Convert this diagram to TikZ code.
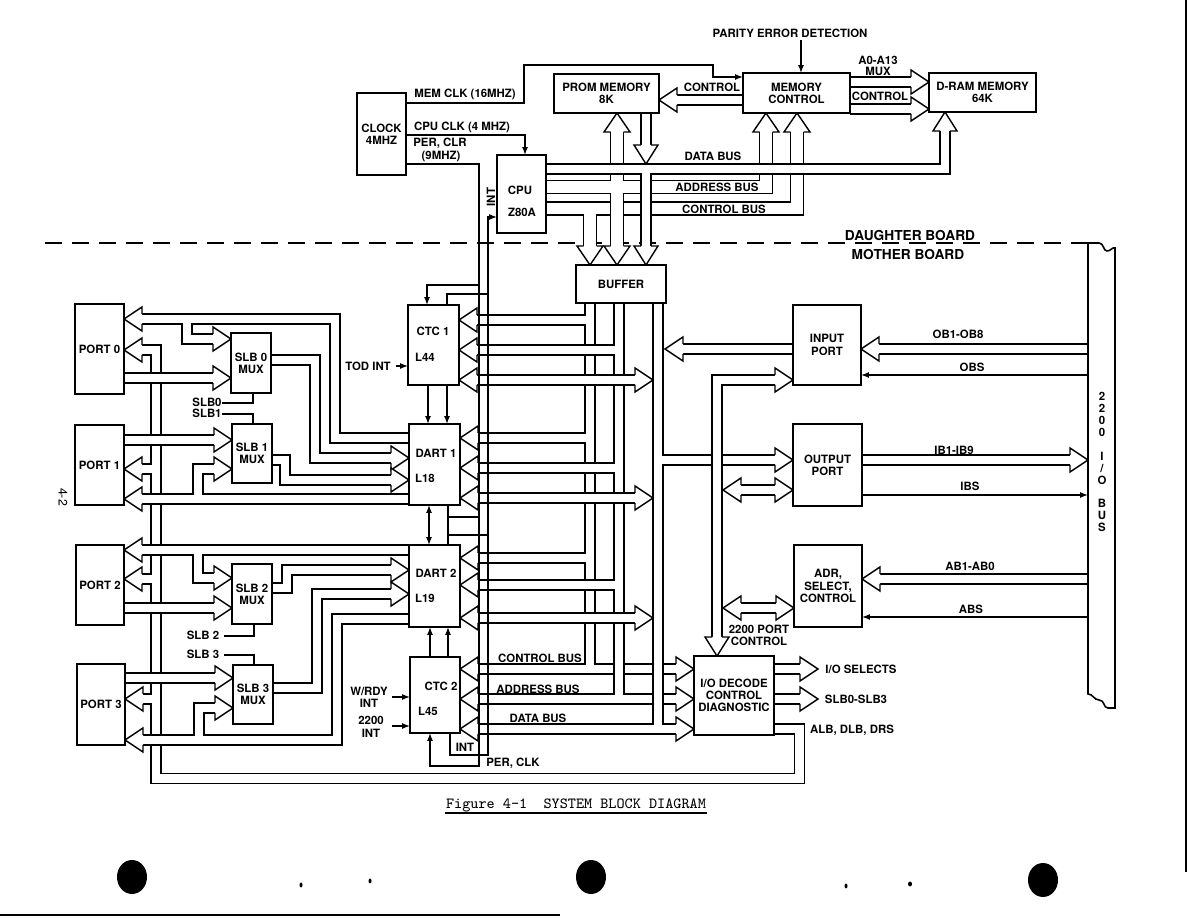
\documentclass[tikz,border=0pt]{standalone}
\usepackage{fontspec}
\setmainfont{TeX Gyre Heros}
\usetikzlibrary{arrows.meta}
\newcommand\dfont{\fontsize{6.5}{7.0}\selectfont\bfseries}
\newcommand\bigfont{\fontsize{7.8}{9}\selectfont\bfseries}
\def\hw{5}
\def\aw{12}
\newcommand\ahR[2]{\filldraw[ah] ({#1-18},{#2-\hw}) -- ({#1-18},{#2-\aw}) -- (#1,#2) -- ({#1-18},{#2+\aw}) -- ({#1-18},{#2+\hw});}
\newcommand\ahL[2]{\filldraw[ah] ({#1+18},{#2-\hw}) -- ({#1+18},{#2-\aw}) -- (#1,#2) -- ({#1+18},{#2+\aw}) -- ({#1+18},{#2+\hw});}
\newcommand\ahU[2]{\filldraw[ah] ({#1-\hw},{#2+19}) -- ({#1-\aw},{#2+19}) -- (#1,#2) -- ({#1+\aw},{#2+19}) -- ({#1+\hw},{#2+19});}
\newcommand\ahD[2]{\filldraw[ah] ({#1-\hw},{#2-19}) -- ({#1-\aw},{#2-19}) -- (#1,#2) -- ({#1+\aw},{#2-19}) -- ({#1+\hw},{#2-19});}
\newcommand\bx[6]{\node[box, minimum width={0.02cm*(#4-#2)}, minimum height={0.02cm*(#5-#3)}] (#1) at ({(#2+#4)/2},{(#3+#5)/2}) {#6};}
\begin{document}
\begin{tikzpicture}[x=0.02cm,y=-0.02cm,
  box/.style={draw, line width=0.9pt, fill=white, inner sep=0pt, outer sep=0pt, align=center, font=\dfont},
  lbl/.style={font=\dfont, inner sep=0.5pt, align=center},
  pipe/.style={double=white, double distance=0.172cm, line width=0.8pt, line join=miter, line cap=butt},
  wpipe/.style={pipe, double distance=0.232cm},
  ah/.style={fill=white, draw=black, line width=0.8pt, line join=miter},
  ln/.style={line width=0.8pt, line join=miter},
  arr/.style={-{Latex[length=4.5pt,width=3.4pt]}},
  arrb/.style={{Latex[length=4.5pt,width=3.4pt]}-{Latex[length=4.5pt,width=3.4pt]}}]
\useasboundingbox (0,0) rectangle (1188,918);
\fill[white] (0,0) rectangle (1188,918);

% board separation
\draw[ln, dash pattern=on 0.34cm off 0.2cm] (45,243) -- (1088,243);

% ---------------- top buses ----------------
\def\hw{6.5}\def\aw{13}
\draw[wpipe] (546,208.5) -- (797,208.5) -- (797,131) (590,208.5) -- (590,247);
\ahU{797}{113} \ahD{590}{265}
\draw[wpipe] (546,187) -- (766,187) -- (766,131) (617,131) -- (617,247);
\ahU{766}{113} \ahU{617}{113} \ahD{617}{265}
\def\hw{5}\def\aw{12}
\draw[pipe] (546,169) -- (945,169) -- (945,130) (646,169) -- (646,247);
\ahU{945}{112} \ahD{646}{265}
\draw[pipe] (646,113) -- (646,147); \ahD{646}{164}
\draw[pipe] (743,100) -- (675,100); \ahL{659}{100}
\draw[pipe] (850,82) -- (913,82); \ahR{929}{82}
\draw[pipe] (850,109) -- (913,109); \ahR{929}{109}

% ---------------- mother board buses ----------------
\draw[pipe] (590,303) -- (590,669) (474,669) -- (680,669) (590,320) -- (474,320) (590,438) -- (474,438) (590,558) -- (474,558);
\ahL{459}{320} \ahL{460}{438} \ahL{460}{558} \ahL{460}{669} \ahR{694}{669}
\draw[pipe] (619,303) -- (619,699) (474,699) -- (680,699) (619,350) -- (474,350) (619,468) -- (474,468) (619,585) -- (474,585);
\ahL{459}{350} \ahL{460}{468} \ahL{460}{585} \ahL{460}{699} \ahR{694}{699}
\draw[pipe] (658,303) -- (658,729) (474,729) -- (680,729) (658,460) -- (779,460);
\ahL{460}{729} \ahR{694}{729} \ahR{793}{460}
\draw[pipe] (474,380) -- (639,380); \ahL{459}{380} \ahR{653}{380}
\draw[pipe] (474,498) -- (639,498); \ahL{460}{498} \ahR{653}{498}
\draw[pipe] (474,618) -- (639,618); \ahL{460}{618} \ahR{653}{618}
\draw[pipe] (793,349) -- (679,349); \ahL{665}{349}
% 2200 port control
\draw[pipe] (779,380) -- (717,380) -- (717,639); \ahR{793}{380} \ahD{717}{656}
\draw[pipe] (739,490) -- (777,490); \ahL{723}{490} \ahR{793}{490}
\draw[pipe] (739,608) -- (778,608); \ahL{723}{608} \ahR{794}{608}
% I/O decode outputs
\draw[pipe] (774,669) -- (802,669); \ahR{818}{669}
\draw[pipe] (774,699) -- (802,699); \ahR{818}{699}
\draw[pipe] (774,729) -- (799.5,729) -- (799.5,778.5) -- (156,778.5) -- (156,350) -- (140,350)
  (156,469) -- (140,469) (156,579) -- (140,579) (156,699) -- (141,699);
\ahL{124}{350} \ahL{124}{469} \ahL{124}{579} \ahL{125}{699}
% right side I/O bus
\draw[pipe] (1088,349) -- (875,349); \ahL{861}{349}
\draw[pipe] (862,460) -- (1074,460); \ahR{1088}{460}
\draw[pipe] (1088,579) -- (876,579); \ahL{862}{579}

% ---------------- ports / mux ----------------
\draw[pipe] (409,438) -- (335,438) -- (335,319) -- (140,319) (187,319) -- (187,339) -- (215,339);
\ahL{124}{319} \ahR{231}{339}
\draw[pipe] (124,378) -- (215,378); \ahR{231}{378}
\draw[pipe] (271,360) -- (315,360) -- (315,458) -- (393,458); \ahR{409}{458}
\draw[pipe] (124,440) -- (216,440); \ahR{232}{440}
\draw[pipe] (272,460) -- (285,460) -- (285,480) -- (393,480); \ahR{409}{480}
\draw[pipe] (409,499) -- (140,499) (198,499) -- (198,469) -- (216,469);
\ahL{124}{499} \ahR{232}{469}
\draw[pipe] (409,550) -- (140,550) (198,550) -- (198,578) -- (216,578);
\ahL{124}{550} \ahR{232}{578}
\draw[pipe] (124,608) -- (216,608); \ahR{232}{608}
\draw[pipe] (272,588) -- (287,588) -- (287,570) -- (393,570); \ahR{409}{570}
\draw[pipe] (273,688) -- (317,688) -- (317,594) -- (393,594); \ahR{409}{594}
\draw[pipe] (409,619) -- (337,619) -- (337,740) -- (141,740) (199,740) -- (199,708) -- (217,708);
\ahL{125}{740} \ahR{233}{708}
\draw[pipe] (125,678) -- (217,678); \ahR{233}{678}

% ---------------- thin signal lines ----------------
\draw[ln,arr] (406,103) -- (524,103) -- (524,65) -- (713,65) -- (713,77) -- (743,77);
\draw[ln,arr] (406,135) -- (525,135) -- (525,155);
\draw[ln,arr] (406,164) -- (479,164) -- (479,766) -- (430,766) -- (430,733);
\draw[ln,arr] (479,285) -- (427,285) -- (427,305);
\draw[ln,arr] (450,733) -- (450,755) -- (488,755) -- (488,217) -- (497,217);
\draw[ln] (488,294) -- (447,294) -- (447,305);
\draw[ln,arr] (801,40) -- (801,73);
\draw[ln,arr] (428,385) -- (428,424);
\draw[ln,arr] (447,385) -- (447,424);
\draw[ln,arrb] (429,505) -- (429,545);
\draw[ln] (448,505) -- (448,545) (448,517) -- (479,517) (448,535) -- (488,535);
\draw[ln,arr] (430,657) -- (430,627);
\draw[ln,arr] (448,657) -- (448,627);
\draw[ln,arr] (396,366) -- (408,366);
\draw[ln,arr] (392,697) -- (410,697);
\draw[ln,arr] (392,726) -- (410,726);
\draw[ln] (222,403) -- (253,403) -- (253,393);
\draw[ln] (222,414) -- (253,414) -- (253,424);
\draw[ln] (224,636) -- (254,636) -- (254,624);
\draw[ln] (224,655) -- (254,655) -- (254,665);
\draw[ln,arr] (1088,375) -- (861,375);
\draw[ln,arr] (862,495) -- (1088,495);
\draw[ln,arr] (1088,617) -- (862,617);

% I/O bus bar
\draw[line width=0.9pt, fill=white] (1088,243) -- (1099,243) .. controls (1104,243) and (1103,251) .. (1107,251)
  .. controls (1111,251) and (1112,247) .. (1115,248) -- (1115,708) -- (1108,708)
  .. controls (1103,708) and (1105,700) .. (1099,700) .. controls (1094,700) and (1093,694) .. (1088,694) -- cycle;

% ---------------- boxes ----------------
\bx{clk}{357}{93}{406}{175}{CLOCK\\4MHZ}
\bx{cpu}{497}{155}{546}{233}{}
\bx{prom}{554}{74}{659}{113}{PROM MEMORY\\8K}
\bx{mc}{743}{73}{850}{113}{MEMORY\\CONTROL}
\bx{dram}{929}{73}{1036}{112}{D-RAM MEMORY\\64K}
\bx{buf}{576}{265}{666}{303}{BUFFER}
\bx{ctcA}{408}{305}{459}{385}{}
\bx{dartA}{409}{424}{460}{505}{}
\bx{dartB}{409}{545}{460}{627}{}
\bx{ctcB}{410}{657}{460}{733}{}
\bx{pA}{75}{304}{124}{394}{PORT 0}
\bx{pB}{75}{425}{124}{505}{PORT 1}
\bx{pC}{76}{545}{124}{625}{PORT 2}
\bx{pD}{77}{664}{125}{745}{PORT 3}
\bx{mA}{231}{333}{271}{393}{SLB 0\\MUX}
\bx{mB}{232}{424}{272}{483}{SLB 1\\MUX}
\bx{mC}{232}{564}{272}{624}{SLB 2\\MUX}
\bx{mD}{233}{665}{273}{724}{SLB 3\\MUX}
\bx{inp}{793}{305}{861}{385}{INPUT\\PORT}
\bx{outp}{793}{424}{862}{506}{OUTPUT\\PORT}
\bx{adr}{794}{545}{862}{627}{ADR,\\SELECT,\\CONTROL}
\bx{iod}{694}{656}{774}{735}{I/O DECODE\\CONTROL\\DIAGNOSTIC}

% texts inside boxes
\node[lbl] (tcpu1) at (520,190) {CPU};
\node[lbl] (tcpu2) at (522,212) {Z80A};
\node[lbl] (tca1) at (433,331) {CTC 1};
\node[lbl] (tca2) at (425,357) {L44};
\node[lbl] (tda1) at (436,453) {DART 1};
\node[lbl] (tda2) at (425,478) {L18};
\node[lbl] (tdb1) at (436,573) {DART 2};
\node[lbl] (tdb2) at (425,598) {L19};
\node[lbl] (tcb1) at (441,686) {CTC 2};
\node[lbl] (tcb2) at (428,711) {L45};

% ---------------- labels ----------------
\node[lbl] (lmem) at (465,94) {MEM CLK (16MHZ)};
\node[lbl] (lcpu) at (462,127) {CPU CLK (4 MHZ)};
\node[lbl] (lper1) at (440,143) {PER, CLR};
\node[lbl] (lper2) at (441,156) {(9MHZ)};
\node[lbl, rotate=90] (lint) at (491,197) {INT};
\node[lbl] (lpar) at (790,33) {PARITY ERROR DETECTION};
\node[lbl] (lctl1) at (712,87) {CONTROL};
\node[lbl] (la0) at (878,60) {A0-A13};
\node[lbl] (lmux) at (878,71) {MUX};
\node[lbl] (lctl2) at (880,96) {CONTROL};
\node[lbl] (ldb) at (713,156) {DATA BUS};
\node[lbl] (lab) at (717,187) {ADDRESS BUS};
\node[lbl] (lcb) at (724,209) {CONTROL BUS};
\node[lbl, font=\bigfont] (ldau) at (910,236) {DAUGHTER BOARD};
\node[lbl, font=\bigfont] (lmot) at (908,255) {MOTHER BOARD};
\node[lbl] (ltod) at (368,366) {TOD INT};
\node[lbl] (lwr) at (369,697) {W/RDY\\INT};
\node[lbl] (l22) at (371,727) {2200\\INT};
\node[lbl] (lint2) at (465,747) {INT};
\node[lbl] (lperclk) at (513,763) {PER, CLK};
\node[lbl] (lcb2) at (540,658) {CONTROL BUS};
\node[lbl] (lab2) at (538,689) {ADDRESS BUS};
\node[lbl] (ldb2) at (538,718) {DATA BUS};
\node[lbl] (lpc) at (759,635) {2200 PORT\\CONTROL};
\node[lbl] (lios) at (861,669) {I/O SELECTS};
\node[lbl] (lslb) at (856,699) {SLB0-SLB3};
\node[lbl] (lalb) at (852,730) {ALB, DLB, DRS};
\node[lbl] (lob) at (958,334) {OB1-OB8};
\node[lbl] (lobs) at (972,367) {OBS};
\node[lbl] (lib) at (954,450) {IB1-IB9};
\node[lbl] (libs) at (970,486) {IBS};
\node[lbl] (labb) at (970,566) {AB1-AB0};
\node[lbl] (labs) at (971,609) {ABS};
\node[lbl, font=\fontsize{6.5}{6.9}\selectfont\bfseries] (lbus) at (1102,462) {2\\2\\0\\0\\[6.5pt]I\\/\\O\\[6pt]B\\U\\S};
\node[lbl] (ls0) at (207,402) {SLB0};
\node[lbl] (ls1) at (207,413) {SLB1};
\node[lbl] (ls2) at (203,635) {SLB 2};
\node[lbl] (ls3) at (203,654) {SLB 3};
\node[inner sep=0, rotate=-90, font=\fontsize{7}{8}\selectfont] (lpg) at (63,497) {4-2};

% caption
\node[inner sep=0, font=\fontsize{8.8}{10}\selectfont\ttfamily] (cap) at (576,805) {Figure 4-1\ \ SYSTEM BLOCK DIAGRAM};
\draw[line width=0.6pt] (445,813) -- (707,813);

% punch holes and page marks
\fill (132,877) ellipse [x radius=0.3cm, y radius=0.34cm];
\fill (591,877) ellipse [x radius=0.3cm, y radius=0.34cm];
\fill (1043,880) ellipse [x radius=0.3cm, y radius=0.34cm];
\fill (301,885) ellipse [x radius=0.03cm, y radius=0.05cm];
\fill (370,881) ellipse [x radius=0.03cm, y radius=0.05cm];
\fill (846,886) ellipse [x radius=0.03cm, y radius=0.05cm];
\fill (910,884) ellipse [x radius=0.04cm, y radius=0.05cm];
\draw[line width=1.2pt] (1186,0) -- (1186,872);
\draw[line width=1pt] (0,915) -- (560,915);
\end{tikzpicture}
\end{document}
